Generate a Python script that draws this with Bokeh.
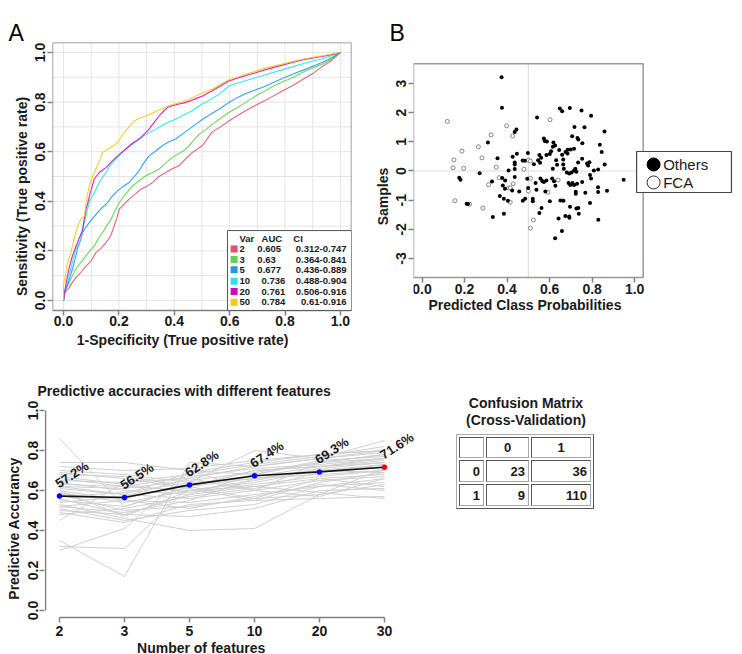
import math
from bokeh.plotting import figure
from bokeh.layouts import column, row
from bokeh.models import (Range1d, ColumnDataSource, FixedTicker,
                          NumeralTickFormatter, Div)
from bokeh.core.properties import value
from bokeh.embed import file_html
from bokeh.resources import INLINE

FONT = "Liberation Sans"
INK = "#1a1a1a"
AXIS_GREY = "#808080"

# ---------------------------------------------------------------- data
# Panel A: ROC curves (false positive rate, true positive rate)
roc_vars = ["2", "3", "5", "10", "20", "50"]
roc_auc = ["0.605", "0.63", "0.677", "0.736", "0.761", "0.784"]
roc_ci = ["0.312-0.747", "0.364-0.841", "0.436-0.889",
          "0.488-0.904", "0.506-0.916", "0.61-0.916"]
roc_colors = ["#DF536B", "#61D04F", "#2297E6", "#28E2E5", "#CD0BBC", "#F5C710"]

roc_var2 = [(0.0, 0.0), (0.004, 0.03), (0.01, 0.04), (0.02, 0.052), (0.03, 0.07),
            (0.044, 0.092), (0.06, 0.11), (0.081, 0.139), (0.1, 0.16), (0.117, 0.193),
            (0.135, 0.21), (0.153, 0.233), (0.17, 0.26), (0.183, 0.301), (0.192, 0.33),
            (0.201, 0.368), (0.22, 0.39), (0.237, 0.409), (0.26, 0.43), (0.279, 0.449),
            (0.3, 0.46), (0.321, 0.476), (0.345, 0.50), (0.369, 0.516), (0.39, 0.53),
            (0.417, 0.543), (0.44, 0.57), (0.465, 0.597), (0.485, 0.612), (0.502, 0.625),
            (0.537, 0.68), (0.567, 0.70), (0.597, 0.724), (0.627, 0.745), (0.657, 0.765),
            (0.687, 0.783), (0.717, 0.80), (0.75, 0.82), (0.79, 0.845), (0.83, 0.868),
            (0.862, 0.89), (0.9, 0.915), (0.934, 0.943), (0.97, 0.97), (1.0, 1.0)]
roc_var3 = [(0.0, 0.0), (0.005, 0.04), (0.01, 0.055), (0.02, 0.073), (0.032, 0.10),
            (0.044, 0.127), (0.06, 0.15), (0.081, 0.18), (0.095, 0.20), (0.111, 0.22),
            (0.125, 0.25), (0.141, 0.274), (0.155, 0.30), (0.171, 0.327), (0.185, 0.36),
            (0.201, 0.395), (0.225, 0.43), (0.249, 0.462), (0.27, 0.48), (0.297, 0.503),
            (0.32, 0.515), (0.345, 0.53), (0.37, 0.555), (0.393, 0.577), (0.42, 0.595),
            (0.442, 0.61), (0.465, 0.64), (0.49, 0.671), (0.515, 0.69), (0.537, 0.711),
            (0.567, 0.735), (0.597, 0.758), (0.627, 0.777), (0.657, 0.798), (0.687, 0.82),
            (0.717, 0.839), (0.75, 0.86), (0.79, 0.881), (0.83, 0.90), (0.862, 0.919),
            (0.9, 0.938), (0.934, 0.953), (0.97, 0.975), (1.0, 1.0)]
roc_var5 = [(0.0, 0.0), (0.004, 0.03), (0.008, 0.045), (0.014, 0.058), (0.022, 0.09),
            (0.032, 0.127), (0.04, 0.16), (0.05, 0.207), (0.06, 0.24), (0.069, 0.274),
            (0.08, 0.295), (0.093, 0.314), (0.108, 0.335), (0.123, 0.355), (0.14, 0.375),
            (0.159, 0.395), (0.175, 0.42), (0.195, 0.442), (0.215, 0.46), (0.237, 0.476),
            (0.255, 0.50), (0.273, 0.523), (0.29, 0.555), (0.309, 0.583), (0.335, 0.605),
            (0.357, 0.624), (0.38, 0.64), (0.405, 0.651), (0.43, 0.672), (0.453, 0.691),
            (0.477, 0.71), (0.502, 0.731), (0.537, 0.755), (0.567, 0.775), (0.597, 0.798),
            (0.627, 0.818), (0.657, 0.834), (0.687, 0.847), (0.717, 0.859), (0.75, 0.875),
            (0.79, 0.895), (0.838, 0.917), (0.88, 0.935), (0.934, 0.96), (0.97, 0.98),
            (1.0, 1.0)]
roc_var10 = [(0.0, 0.0), (0.004, 0.04), (0.014, 0.073), (0.02, 0.10), (0.026, 0.127),
             (0.035, 0.17), (0.044, 0.207), (0.055, 0.23), (0.062, 0.247), (0.075, 0.314),
             (0.085, 0.36), (0.093, 0.395), (0.103, 0.42), (0.111, 0.435), (0.129, 0.476),
             (0.14, 0.495), (0.153, 0.516), (0.165, 0.54), (0.177, 0.556), (0.195, 0.578),
             (0.213, 0.597), (0.23, 0.615), (0.249, 0.63), (0.27, 0.648), (0.291, 0.664),
             (0.31, 0.678), (0.333, 0.691), (0.355, 0.705), (0.375, 0.718), (0.395, 0.727),
             (0.417, 0.738), (0.44, 0.752), (0.465, 0.765), (0.49, 0.785), (0.515, 0.80),
             (0.537, 0.815), (0.567, 0.835), (0.597, 0.865), (0.627, 0.876), (0.657, 0.886),
             (0.687, 0.896), (0.717, 0.906), (0.75, 0.917), (0.79, 0.93), (0.838, 0.946),
             (0.88, 0.96), (0.934, 0.975), (0.97, 0.988), (1.0, 1.0)]
roc_var20 = [(0.0, 0.0), (0.002, 0.018), (0.008, 0.06), (0.014, 0.10), (0.022, 0.14),
             (0.032, 0.18), (0.04, 0.205), (0.05, 0.233), (0.06, 0.26), (0.069, 0.287),
             (0.075, 0.33), (0.081, 0.368), (0.088, 0.395), (0.093, 0.42), (0.102, 0.455),
             (0.111, 0.49), (0.129, 0.516), (0.153, 0.536), (0.17, 0.556), (0.189, 0.577),
             (0.21, 0.597), (0.231, 0.617), (0.25, 0.635), (0.273, 0.651), (0.29, 0.67),
             (0.309, 0.691), (0.325, 0.715), (0.345, 0.744), (0.36, 0.762), (0.375, 0.778),
             (0.395, 0.786), (0.417, 0.792), (0.44, 0.798), (0.459, 0.805), (0.48, 0.815),
             (0.502, 0.825), (0.537, 0.846), (0.567, 0.865), (0.597, 0.885), (0.627, 0.896),
             (0.657, 0.906), (0.687, 0.916), (0.717, 0.926), (0.75, 0.937), (0.79, 0.949),
             (0.83, 0.961), (0.862, 0.97), (0.9, 0.978), (0.934, 0.984), (0.97, 0.992),
             (1.0, 1.0)]
roc_var50 = [(0.0, 0.0), (0.0, 0.06), (0.006, 0.10), (0.01, 0.13), (0.014, 0.15),
             (0.02, 0.17), (0.026, 0.19), (0.032, 0.22), (0.038, 0.25), (0.046, 0.28),
             (0.056, 0.315), (0.065, 0.33), (0.075, 0.34), (0.081, 0.39), (0.087, 0.43),
             (0.095, 0.47), (0.105, 0.50), (0.115, 0.525), (0.123, 0.545), (0.132, 0.57),
             (0.141, 0.597), (0.155, 0.607), (0.171, 0.617), (0.185, 0.627), (0.195, 0.637),
             (0.207, 0.657), (0.219, 0.677), (0.237, 0.70), (0.255, 0.724), (0.275, 0.735),
             (0.297, 0.744), (0.318, 0.755), (0.339, 0.765), (0.36, 0.775), (0.381, 0.785),
             (0.41, 0.795), (0.442, 0.805), (0.47, 0.82), (0.496, 0.835), (0.537, 0.852),
             (0.567, 0.872), (0.597, 0.89), (0.627, 0.90), (0.657, 0.912), (0.687, 0.922),
             (0.717, 0.933), (0.75, 0.943), (0.79, 0.953), (0.83, 0.965), (0.862, 0.973),
             (0.9, 0.981), (0.934, 0.987), (0.97, 0.994), (1.0, 1.0)]
roc_curves = [roc_var2, roc_var3, roc_var5, roc_var10, roc_var20, roc_var50]

# Panel B: predicted class probability vs. sample score
others_prob = [0.374, 0.376, 0.436, 0.444, 0.310, 0.355, 0.426, 0.446, 0.436, 0.436,
               0.473, 0.484, 0.498, 0.407, 0.436, 0.271, 0.175, 0.181, 0.377, 0.436,
               0.495, 0.391, 0.329, 0.380, 0.390, 0.424, 0.457, 0.499, 0.485, 0.474,
               0.366, 0.385, 0.404, 0.210, 0.216, 0.385, 0.333,
               0.648, 0.659, 0.695, 0.750, 0.795, 0.541, 0.717, 0.764, 0.858, 0.706,
               0.731, 0.735, 0.573, 0.577, 0.587, 0.618, 0.626, 0.615, 0.754, 0.836,
               0.607, 0.601, 0.645, 0.659, 0.675, 0.685, 0.699, 0.715, 0.684, 0.845,
               0.552, 0.560, 0.546, 0.555, 0.526, 0.585, 0.631, 0.664, 0.734, 0.753,
               0.776, 0.787, 0.781, 0.859, 0.664, 0.615, 0.635, 0.667, 0.681, 0.692,
               0.703, 0.715, 0.721, 0.726, 0.808, 0.828, 0.790, 0.795, 0.948, 0.557,
               0.565, 0.573, 0.585, 0.612, 0.621, 0.534, 0.538, 0.689, 0.697, 0.707,
               0.715, 0.729, 0.753, 0.627, 0.828, 0.828, 0.870, 0.580, 0.723, 0.723,
               0.768, 0.521, 0.521, 0.601, 0.651, 0.665, 0.790, 0.696, 0.726, 0.735,
               0.562, 0.552, 0.737, 0.674, 0.692, 0.693, 0.642, 0.829, 0.658, 0.626]
others_score = [3.21, 2.17, 1.34, 1.42, 0.98, 0.44, 0.49, 0.59, 0.29, 0.22,
                0.36, 0.35, 0.62, 0.02, 0.07, -0.08, -0.23, -0.30, -0.24, -0.21,
                -0.27, -0.33, -0.36, -0.50, -0.61, -0.67, -0.70, -0.58, -0.95, -1.02,
                -0.86, -0.95, -1.02, -1.12, -1.13, -1.47, -1.58,
                2.14, 2.05, 2.16, 2.07, 1.89, 1.83, 1.51, 1.50, 1.35, 1.19,
                1.13, 1.08, 1.11, 1.03, 1.01, 0.98, 0.87, 0.83, 0.95, 0.90,
                0.68, 0.58, 0.72, 0.56, 0.65, 0.73, 0.74, 0.76, 0.60, 0.65,
                0.55, 0.45, 0.37, 0.28, 0.23, 0.55, 0.37, 0.39, 0.29, 0.42,
                0.26, 0.30, 0.19, 0.22, 0.22, 0.08, 0.21, 0.08, -0.05, -0.09,
                -0.05, 0.01, 0.08, -0.03, 0.02, 0.05, -0.14, -0.26, -0.30, -0.26,
                -0.34, -0.38, -0.33, -0.26, -0.35, -0.41, -0.64, -0.41, -0.48, -0.41,
                -0.48, -0.44, -0.38, -0.51, -0.56, -0.72, -0.68, -0.70, -0.71, -0.78,
                -0.75, -0.95, -1.04, -1.04, -1.01, -1.02, -1.10, -1.23, -1.29, -1.27,
                -1.27, -1.44, -1.47, -1.54, -1.56, -1.60, -1.63, -1.67, -2.06, -2.31]
fca_prob = [0.119, 0.398, 0.426, 0.325, 0.265, 0.188, 0.150, 0.282, 0.500, 0.510,
            0.146, 0.196, 0.349, 0.479, 0.363, 0.510, 0.313, 0.429, 0.407, 0.415,
            0.500, 0.415, 0.155, 0.224, 0.286, 0.510, 0.602, 0.640, 0.592, 0.524]
fca_score = [1.70, 1.55, 1.20, 1.24, 0.83, 0.68, 0.38, 0.45, 0.37, 0.34,
             0.11, 0.09, 0.13, 0.06, -0.23, -0.25, -0.47, -0.44, -0.58, -0.58,
             -0.69, -1.07, -1.02, -1.14, -1.27, -1.96, 1.76, -0.31, -0.73, -1.68]
class_labels = ["Others", "FCA"]

# Panel C: accuracy by number of features
n_features = ["2", "3", "5", "10", "20", "30"]
mean_accuracy = [0.572, 0.565, 0.628, 0.674, 0.693, 0.716]
run_accuracies = [
    [0.86, 0.52, 0.62, 0.70, 0.72, 0.76],
    [0.35, 0.17, 0.74, 0.72, 0.76, 0.80],
    [0.32, 0.31, 0.62, 0.66, 0.70, 0.73],
    [0.30, 0.41, 0.70, 0.68, 0.74, 0.78],
    [0.45, 0.64, 0.66, 0.60, 0.74, 0.76],
    [0.74, 0.74, 0.70, 0.60, 0.57, 0.66],
    [0.72, 0.70, 0.71, 0.75, 0.78, 0.80],
    [0.70, 0.68, 0.64, 0.66, 0.68, 0.70],
    [0.68, 0.67, 0.62, 0.56, 0.58, 0.63],
    [0.66, 0.62, 0.60, 0.64, 0.70, 0.72],
    [0.64, 0.60, 0.58, 0.62, 0.66, 0.68],
    [0.62, 0.58, 0.56, 0.60, 0.65, 0.67],
    [0.60, 0.55, 0.54, 0.58, 0.62, 0.64],
    [0.58, 0.50, 0.52, 0.56, 0.66, 0.62],
    [0.56, 0.48, 0.47, 0.51, 0.60, 0.61],
    [0.55, 0.52, 0.62, 0.70, 0.72, 0.74],
    [0.54, 0.57, 0.66, 0.72, 0.76, 0.79],
    [0.53, 0.46, 0.40, 0.41, 0.58, 0.71],
    [0.52, 0.49, 0.55, 0.66, 0.70, 0.69],
    [0.51, 0.45, 0.50, 0.53, 0.62, 0.66],
    [0.50, 0.48, 0.58, 0.68, 0.75, 0.77],
    [0.49, 0.44, 0.53, 0.55, 0.64, 0.69],
    [0.60, 0.47, 0.60, 0.62, 0.59, 0.56],
    [0.58, 0.56, 0.63, 0.67, 0.72, 0.75],
    [0.65, 0.64, 0.68, 0.73, 0.77, 0.82],
    [0.69, 0.66, 0.61, 0.55, 0.56, 0.57],
    [0.62, 0.61, 0.65, 0.69, 0.74, 0.78],
    [0.57, 0.59, 0.64, 0.80, 0.76, 0.85],
    [0.48, 0.51, 0.57, 0.61, 0.69, 0.73],
    [0.67, 0.63, 0.59, 0.63, 0.67, 0.70],
    [0.59, 0.54, 0.60, 0.65, 0.71, 0.74],
    [0.63, 0.62, 0.67, 0.71, 0.73, 0.76],
    [0.52, 0.55, 0.51, 0.57, 0.63, 0.60],
    [0.61, 0.58, 0.69, 0.74, 0.78, 0.80],
]

# Panel D: confusion matrix
cm_classes = ["0", "1"]
cm_counts = [[23, 36], [9, 110]]
cm_title = ["Confusion Matrix", "(Cross-Validation)"]


# ---------------------------------------------------------------- helpers
def style_axis(ax, vertical=False):
    ax.major_label_text_font = FONT
    ax.major_label_text_font_style = "bold"
    ax.major_label_text_font_size = "14px"
    ax.major_label_text_color = INK
    ax.axis_label_text_font = FONT
    ax.axis_label_text_font_style = "bold"
    ax.axis_label_text_font_size = "14px"
    ax.axis_label_text_color = INK
    ax.major_tick_in = 0
    ax.major_tick_out = 5
    ax.minor_tick_line_color = None
    ax.major_tick_line_color = AXIS_GREY
    ax.major_tick_line_width = 1.5
    ax.axis_line_color = AXIS_GREY
    ax.axis_line_width = 1.5
    ax.major_label_standoff = 2
    ax.axis_label_standoff = 3
    if vertical:
        ax.major_label_orientation = "parallel"


def panel_letter(p, letter, offset):
    p.title.text = letter
    p.title.text_font = FONT
    p.title.text_font_size = "23px"
    p.title.text_font_style = "normal"
    p.title.text_color = "black"
    p.title.align = "left"
    p.title.offset = offset
    p.title.standoff = -6


def axis_title(p, x, y, text, angle=0.0):
    p.text(x=[x], y=[y], text=[text], angle=angle, text_font=value(FONT),
           text_font_style="bold", text_font_size="14px", text_color=INK,
           text_align="center", text_baseline="middle")


main_ticks = [0.0, 0.2, 0.4, 0.6, 0.8, 1.0]

# ---------------------------------------------------------------- panel A
# Frame runs down to the bottom of the row; the x axis sits on the box edge.
a_lim = (-0.04, 1.04)
pA = figure(width=360, height=350, output_backend="svg", toolbar_location=None,
            x_range=Range1d(*a_lim), y_range=Range1d(-0.2016, 1.0403),
            min_border_left=52, min_border_right=9, min_border_top=42,
            min_border_bottom=0,
            y_axis_label="Sensitivity (True positive rate)")
pA.xaxis.ticker = FixedTicker(ticks=main_ticks)
pA.yaxis.ticker = FixedTicker(ticks=main_ticks)
pA.xaxis.formatter = NumeralTickFormatter(format="0.0")
pA.yaxis.formatter = NumeralTickFormatter(format="0.0")
style_axis(pA.xaxis[0])
style_axis(pA.yaxis[0], vertical=True)
pA.xaxis.fixed_location = a_lim[0]
pA.xaxis.major_label_standoff = 1
pA.yaxis.bounds = (-0.12, 1.04)
pA.axis.axis_line_color = None
pA.grid.visible = False
pA.outline_line_color = None
panel_letter(pA, "A", -44)

grid_ticks = [0.0, 0.1, 0.2, 0.3, 0.4, 0.5, 0.6, 0.7, 0.8, 0.9, 1.0]
n_g = len(grid_ticks)
pA.segment(x0=grid_ticks + [a_lim[0]] * n_g, x1=grid_ticks + [a_lim[1]] * n_g,
           y0=[a_lim[0]] * n_g + grid_ticks, y1=[a_lim[1]] * n_g + grid_ticks,
           line_color="#e4e4e4", line_width=1)
pA.quad(left=a_lim[0], right=a_lim[1], bottom=a_lim[0], top=a_lim[1],
        fill_color=None, line_color=AXIS_GREY, line_width=1.5)

for pts, col in zip(roc_curves, roc_colors):
    fx = [a for a, _ in pts]
    fy = [b for _, b in pts]
    pA.line(fx, fy, line_color=col, line_width=1.1, line_alpha=0.9)

# AUC table in the lower-right corner
pA.quad(left=0.592, right=a_lim[1], top=0.282, bottom=a_lim[0],
        fill_color="white", line_color="#555555", line_width=1)
row_y = [0.208, 0.165, 0.124, 0.078, 0.036, -0.007]
pA.scatter(x=[0.616] * len(roc_vars), y=row_y, marker="square", size=7,
           fill_color=roc_colors, line_color=None)
hdr = ColumnDataSource(dict(x=[0.635, 0.715, 0.830], y=[0.249] * 3,
                            t=["Var", "AUC", "CI"]))
pA.text(x="x", y="y", text="t", source=hdr, text_font=value(FONT),
        text_font_style="bold", text_font_size="9.5px", text_color=INK,
        text_baseline="middle", text_align="left")
leg = ColumnDataSource(dict(
    vx=[0.635] * len(roc_vars),
    ax=[0.700 if len(v) == 1 else 0.715 for v in roc_vars],
    cx=[1.022] * len(roc_vars),
    y=row_y, var=roc_vars, auc=roc_auc, ci=roc_ci))
for xcol, tcol, align in (("vx", "var", "left"), ("ax", "auc", "left"), ("cx", "ci", "right")):
    pA.text(x=xcol, y="y", text=tcol, source=leg, text_font=value(FONT),
            text_font_style="bold", text_font_size="9.5px", text_color=INK,
            text_baseline="middle", text_align=align)
axis_title(pA, 0.43, -0.161, "1-Specificity (True positive rate)")

# ---------------------------------------------------------------- panel B
# The frame runs to the right and bottom edges so the class key and the
# x-axis texts can sit beside/below the box drawn at the data limits.
b_xlim = (-0.04, 1.04)
b_ylim = (-3.65, 3.68)
pB = figure(width=382, height=350, output_backend="svg", toolbar_location=None,
            x_range=Range1d(-0.04, 1.507), y_range=Range1d(-6.154, 4.405),
            min_border_left=53, min_border_right=0, min_border_top=42,
            min_border_bottom=0, y_axis_label="Samples")
pB.xaxis.ticker = FixedTicker(ticks=main_ticks)
pB.xaxis.formatter = NumeralTickFormatter(format="0.0")
pB.yaxis.ticker = FixedTicker(ticks=[-3, -2, -1, 0, 1, 2, 3])
pB.yaxis.formatter = NumeralTickFormatter(format="0")
style_axis(pB.xaxis[0])
style_axis(pB.yaxis[0], vertical=True)
pB.xaxis.fixed_location = b_ylim[0]
pB.yaxis.bounds = b_ylim
pB.axis.axis_line_color = None
pB.grid.visible = False
pB.outline_line_color = None
panel_letter(pB, "B", -24)

pB.segment(x0=[0.5, b_xlim[0]], y0=[b_ylim[0], 0.0], x1=[0.5, b_xlim[1]], y1=[b_ylim[1], 0.0],
           line_color="#dddddd", line_width=1.2)
pB.quad(left=b_xlim[0], right=b_xlim[1], bottom=b_ylim[0], top=b_ylim[1],
        fill_color=None, line_color="#999999", line_width=1.5)
pB.scatter(fca_prob, fca_score, size=4, fill_color="white",
           line_color="#777777", line_width=0.9)
pB.scatter(others_prob, others_score, size=4, fill_color="black",
           line_color=None)
axis_title(pB, 0.484, -4.61, "Predicted Class Probabilities")

# class key to the right of the box
pB.quad(left=1.009, right=1.455, top=0.669, bottom=-0.737,
        fill_color="white", line_color="#444444", line_width=1.2)
key_y = [0.223, -0.394]
pB.scatter(x=[1.089, 1.089], y=key_y, size=13, fill_color=["black", "white"],
           line_color=["black", "#333333"], line_width=1)
pB.text(x=[1.134, 1.134], y=key_y, text=class_labels, text_font=value(FONT),
        text_font_size="15px", text_color=INK, text_align="left",
        text_baseline="middle")

# ---------------------------------------------------------------- panel C
positions = list(range(1, len(n_features) + 1))
c_left = 0.769
pC = figure(width=420, height=304, output_backend="svg", toolbar_location=None,
            x_range=Range1d(c_left, 6.554), y_range=Range1d(-0.22, 1.04),
            min_border_left=44, min_border_right=0, min_border_top=52,
            min_border_bottom=0,
            title="Predictive accuracies with different features",
            y_axis_label="Predictive Accurancy")
pC.title.text_font = FONT
pC.title.text_font_size = "14px"
pC.title.text_font_style = "bold"
pC.title.text_color = INK
pC.title.align = "left"
pC.title.offset = -7
pC.title.standoff = 7
pC.xaxis.ticker = FixedTicker(ticks=positions)
pC.xaxis.major_label_overrides = {p: f for p, f in zip(positions, n_features)}
pC.yaxis.ticker = FixedTicker(ticks=main_ticks)
pC.yaxis.formatter = NumeralTickFormatter(format="0.0")
style_axis(pC.xaxis[0])
style_axis(pC.yaxis[0], vertical=True)
pC.xaxis.fixed_location = -0.035
pC.xaxis.bounds = (positions[0], positions[-1])
pC.yaxis.bounds = (-0.22, 1)
pC.yaxis.axis_line_color = None
pC.xaxis.major_label_standoff = 3
pC.grid.visible = False
pC.outline_line_color = None
# y axis rule from 0 to 1, one pixel inside the frame edge
pC.segment(x0=[0.785], x1=[0.785], y0=[0.0], y1=[1.0], line_color=AXIS_GREY,
           line_width=1.5)

pC.multi_line(xs=[positions] * len(run_accuracies), ys=run_accuracies,
              line_color="#cfcfcf", line_width=1)
pC.line(positions, mean_accuracy, line_color="#111111", line_width=1.6)
point_colors = ["#0000ff"] * (len(positions) - 1) + ["#ff0000"]
pC.scatter(positions, mean_accuracy, size=5.5, fill_color=point_colors,
           line_color=None)
acc_labels = [f"{v * 100:.1f}%" for v in mean_accuracy]
pC.text(x=positions, y=mean_accuracy, text=acc_labels, angle=math.radians(33),
        x_offset=1, y_offset=-5, text_font=value(FONT), text_font_style="bold",
        text_font_size="13px", text_color=INK, text_align="left",
        text_baseline="bottom")
axis_title(pC, 3.18, -0.185, "Number of features")

# ---------------------------------------------------------------- panel D
cell = ("border:1px inset #a8a8a8;padding:0 3px;font-weight:bold;"
        "font-size:13px;box-sizing:border-box;overflow:hidden;")
col_w = [25, 43, 60]
row_h = [21, 22, 22]
colgroup = "<colgroup>" + "".join(f'<col style="width:{w}px;">' for w in col_w) + "</colgroup>"
rows_html = []
head = [f'<td style="{cell}height:{row_h[0]}px;"></td>']
for j, c in enumerate(cm_classes):
    head.append(f'<td style="{cell}height:{row_h[0]}px;text-align:center;">{c}</td>')
rows_html.append("<tr>" + "".join(head) + "</tr>")
for i, c in enumerate(cm_classes):
    cells = [f'<td style="{cell}height:{row_h[i + 1]}px;text-align:right;">{c}</td>']
    for j, n in enumerate(cm_counts[i]):
        cells.append(f'<td style="{cell}height:{row_h[i + 1]}px;text-align:right;">{n}</td>')
    rows_html.append("<tr>" + "".join(cells) + "</tr>")
table_w = sum(col_w) + 2 * (len(col_w) + 1) + 2

matrix_html = (
    f'<div style="position:relative;width:322px;height:304px;'
    f"font-family:'{FONT}',Arial,sans-serif;color:{INK};\">"
    f'<div style="position:absolute;left:22px;top:45px;width:168px;text-align:center;'
    f'font-weight:bold;font-size:14px;line-height:17px;">{cm_title[0]}<br>{cm_title[1]}</div>'
    f'<table style="position:absolute;left:36px;top:84px;width:{table_w}px;'
    f'table-layout:fixed;border:1px outset #a8a8a8;box-sizing:border-box;'
    f'border-collapse:separate;border-spacing:2px;line-height:15px;">'
    + colgroup + "".join(rows_html) + "</table></div>")
pD = Div(text=matrix_html, width=322, height=304, margin=0)

layout = column(row(pA, pB), row(pC, pD))
open("out.html", "w").write(file_html(layout, INLINE))
